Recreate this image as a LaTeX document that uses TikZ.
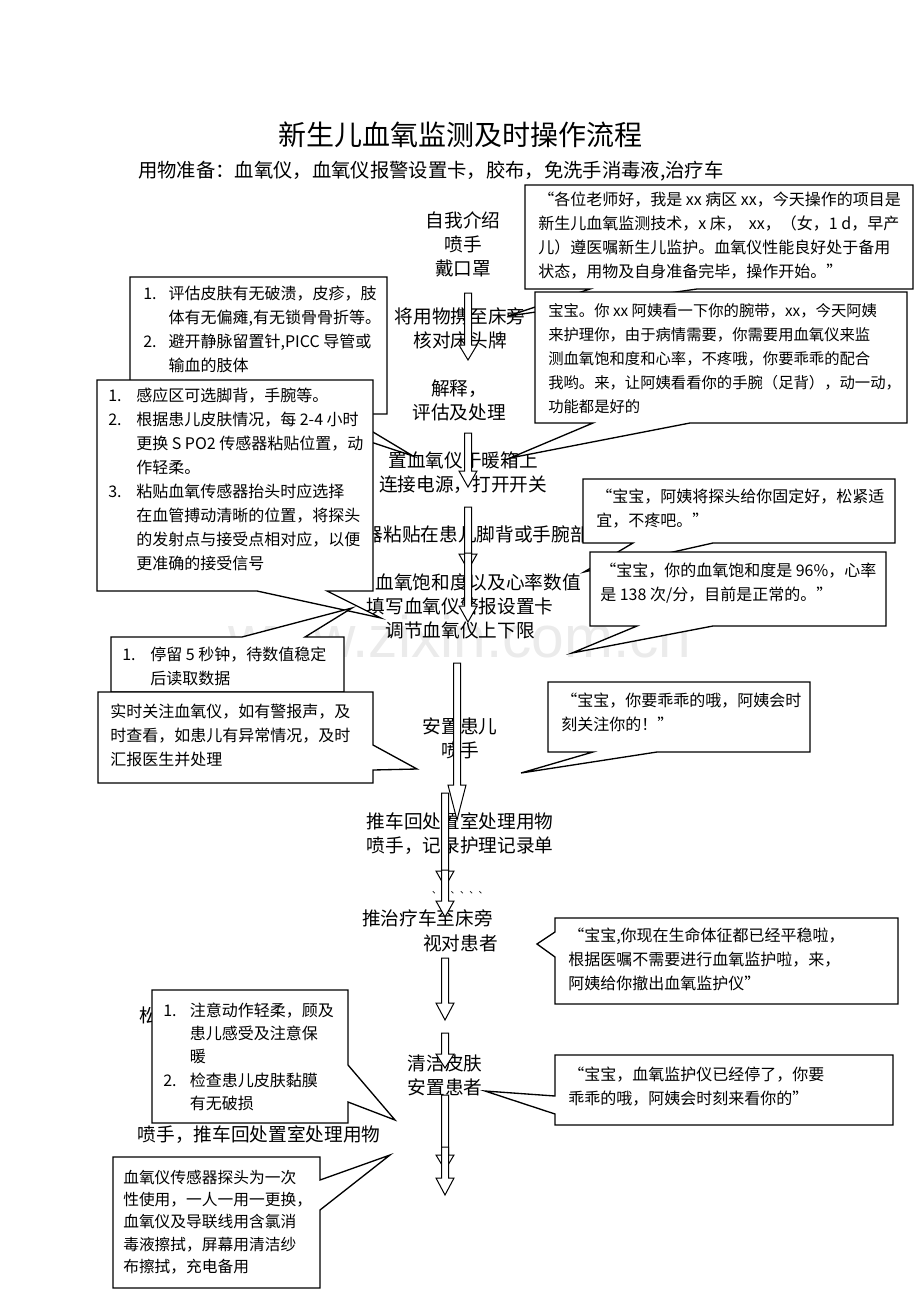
\documentclass[tikz,border=0pt]{standalone}
\usepackage{fontspec}
\setmainfont{Noto Sans CJK SC}
\newfontfamily\markfont{Liberation Sans}
\usepackage{tikz}

\newcommand{\flowarrow}[4]{%
  \draw[arrowbox] (#1-3.5,#2) -- (#1+3.5,#2) -- (#1+3.5,#3-#4) -- (#1+9,#3-#4) -- (#1,#3) -- (#1-9,#3-#4) -- (#1-3.5,#3-#4) -- cycle;}

\tikzset{
  flowtext/.style={font=\fontsize{14}{18}\selectfont, align=center, inner sep=0pt},
  saytext/.style={font=\fontsize{12}{18}\selectfont, align=left, inner sep=0pt, anchor=west},
  bubble/.style={draw, fill=white, line width=1pt},
  arrowbox/.style={draw, fill=white, line width=0.75pt}
}

\begin{document}
\begin{tikzpicture}[x=0.75pt, y=-0.75pt]

	\useasboundingbox (0,0) rectangle (920,1302);

	\node[text=gray!16, font=\markfont\fontsize{44}{44}\selectfont, anchor=base] (mark) at (460,657) {www.zixin.com.cn};

	\node[font=\fontsize{21}{24}\selectfont, inner sep=0pt] (title) at (460,135) {新生儿血氧监测及时操作流程};
	\node[font=\fontsize{14.5}{18}\selectfont, inner sep=0pt, anchor=west] (prep) at (138,171) {用物准备：血氧仪，血氧仪报警设置卡，胶布，免洗手消毒液,治疗车};

	\node[flowtext] (intro) at (463,244) {自我介绍\\喷手\\戴口罩};
	\node[flowtext] (carry) at (460,328) {将用物携至床旁\\核对床头牌};
	\node[flowtext] (explain) at (459,400) {解释，\\评估及处理};
	\node[flowtext] (power) at (463,473) {置血氧仪于暖箱上\\连接电源，打开开关};
	\node[flowtext, anchor=east] (sensor) at (589,534) {器粘贴在患儿脚背或手腕部};
	\node[flowtext, anchor=east] (read) at (581,582) {血氧饱和度以及心率数值};
	\node[flowtext] (alarm) at (460,618) {填写血氧仪警报设置卡\\调节血氧仪上下限};
	\node[flowtext] (settle) at (460,738) {安置患儿\\喷手};
	\node[flowtext] (back) at (460,834) {推车回处置室处理用物\\喷手，记录护理记录单};
	\node[font=\fontsize{7}{8}\selectfont, inner sep=0pt] (dots) at (460,893) {、、、、、、};
	\node[flowtext, anchor=west] (cart) at (362,918) {推治疗车至床旁};
	\node[flowtext, anchor=west] (check) at (423,943) {视对患者};
	\node[flowtext] (clean) at (445,1075) {清洁皮肤\\安置患者};
	\node[flowtext, anchor=west] (loosen) at (139,1015) {松};
	\node[flowtext] (wash) at (259,1135) {喷手，推车回处置室处理用物};

	\flowarrow{468}{293}{360}{15}
	\flowarrow{468}{433}{487}{16}
	\flowarrow{468}{507}{570}{16}
	\flowarrow{468}{553}{622}{16}
	\flowarrow{457}{663}{820}{35}
	\flowarrow{445}{793}{887}{16}
	\flowarrow{445}{870}{917}{16}
	\flowarrow{445}{958}{1020}{17}
	\flowarrow{445}{1033}{1068}{14}
	\flowarrow{445}{1095}{1170}{15}
	\flowarrow{445}{1147}{1195}{17}

	\draw[bubble] (525,185) -- (913,185) -- (913,289) -- (697,289) -- (508,316) -- (590,289) -- (525,289) -- cycle;
	\node[saytext] (greet) at (538,236) {“各位老师好，我是 xx 病区 xx，今天操作的项目是\\新生儿血氧监测技术，x 床，\ \ xx，（女，1 d，早产\\儿）遵医嘱新生儿监护。血氧仪性能良好处于备用\\状态，用物及自身准备完毕，操作开始。”};

	\draw[bubble] (535,292) -- (907,292) -- (907,423) -- (690,423) -- (510,458) -- (593,423) -- (535,423) -- cycle;
	\node[saytext, font=\fontsize{11.5}{18}\selectfont] (wrist) at (548,359) {宝宝。你 xx 阿姨看一下你的腕带，xx，今天阿姨\\来护理你，由于病情需要，你需要用血氧仪来监\\测血氧饱和度和心率，不疼哦，你要乖乖的配合\\我哟。来，让阿姨看看你的手腕（足背），动一动，\\功能都是好的};

	\draw[bubble] (130,277) -- (387,277) -- (387,414) -- (343,414) -- (413,456) -- (286,414) -- (130,414) -- cycle;
	\node[saytext] (assess) at (143,331) {\begin{tabular}{@{}p{19pt}@{}l@{}}
		1. & 评估皮肤有无破溃，皮疹，肢\\
		   & 体有无偏瘫,有无锁骨骨折等。\\
		2. & 避开静脉留置针,PICC 导管或\\
		   & 输血的肢体
	\end{tabular}};

	\draw[bubble] (97,380) -- (373,380) -- (373,591) -- (327,591) -- (381,618) -- (257,591) -- (97,591) -- cycle;
	\node[saytext] (site) at (108,481) {\begin{tabular}{@{}p{21pt}@{}l@{}}
		1. & 感应区可选脚背，手腕等。\\
		2. & 根据患儿皮肤情况，每 2-4 小时\\
		   & 更换 S PO2 传感器粘贴位置，动\\
		   & 作轻柔。\\
		3. & 粘贴血氧传感器抬头时应选择\\
		   & 在血管搏动清晰的位置，将探头\\
		   & 的发射点与接受点相对应，以便\\
		   & 更准确的接受信号
	\end{tabular}};

	\draw[bubble] (111,692) -- (111,637) -- (242,637) -- (352,608) -- (305,637) -- (344,637) -- (344,692) -- cycle;
	\node[saytext] (wait) at (122,668) {\begin{tabular}{@{}p{21pt}@{}l@{}}
		1. & 停留 5 秒钟，待数值稳定\\
		   & 后读取数据
	\end{tabular}};

	\draw[bubble] (98,692) -- (373,692) -- (373,745) -- (417,769) -- (373,770) -- (373,783) -- (98,783) -- cycle;
	\node[saytext] (watch) at (110,735) {实时关注血氧仪，如有警报声，及\\时查看，如患儿有异常情况，及时\\汇报医生并处理};

	\draw[bubble] (583,479) -- (895,479) -- (895,543) -- (713,543) -- (584,572) -- (633,543) -- (583,543) -- cycle;
	\node[saytext] (fix) at (596,509) {“宝宝，阿姨将探头给你固定好，松紧适\\宜，不疼吧。”};

	\draw[bubble] (590,552) -- (886,552) -- (886,626) -- (713,626) -- (572,653) -- (637,626) -- (590,626) -- cycle;
	\node[saytext] (value) at (600,583) {“宝宝，你的血氧饱和度是 96\%，心率\\是 138 次/分，目前是正常的。”};

	\draw[bubble] (548,682) -- (810,682) -- (810,752) -- (657,752) -- (521,773) -- (593,752) -- (548,752) -- cycle;
	\node[saytext] (behave) at (561,712) {“宝宝，你要乖乖的哦，阿姨会时\\刻关注你的！”};

	\draw[bubble] (555,918) -- (898,918) -- (898,1004) -- (555,1004) -- (555,957) -- (537,944) -- (555,932) -- cycle;
	\node[saytext] (remove) at (568,959) {“宝宝,你现在生命体征都已经平稳啦，\\根据医嘱不需要进行血氧监护啦，来，\\阿姨给你撤出血氧监护仪”};

	\draw[bubble] (555,1055) -- (893,1055) -- (893,1125) -- (555,1125) -- (555,1114) -- (485,1091) -- (555,1096) -- cycle;
	\node[saytext] (stop) at (568,1087) {“宝宝，血氧监护仪已经停了，你要\\乖乖的哦，阿姨会时刻来看你的”};

	\draw[bubble] (152,990) -- (348,990) -- (348,1065) -- (395,1120) -- (348,1102) -- (348,1123) -- (152,1123) -- cycle;
	\node[saytext, font=\fontsize{12}{17.5}\selectfont] (gentle) at (163,1058) {\begin{tabular}{@{}p{20pt}@{}l@{}}
		1. & 注意动作轻柔，顾及\\
		   & 患儿感受及注意保\\
		   & 暖\\
		2. & 检查患儿皮肤黏膜\\
		   & 有无破损
	\end{tabular}};

	\draw[bubble] (113,1157) -- (320,1157) -- (320,1180) -- (390,1155) -- (320,1210) -- (320,1288) -- (113,1288) -- cycle;
	\node[saytext, font=\fontsize{11.8}{16.7}\selectfont] (probe) at (123,1222) {血氧仪传感器探头为一次\\性使用，一人一用一更换，\\血氧仪及导联线用含氯消\\毒液擦拭，屏幕用清洁纱\\布擦拭，充电备用};

\end{tikzpicture}
\end{document}
